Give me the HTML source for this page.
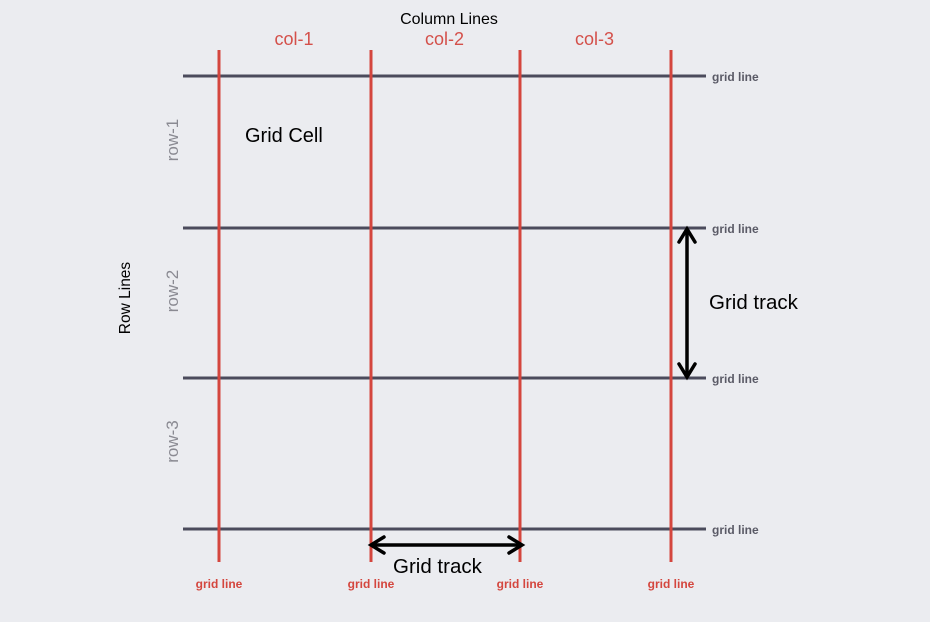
<!DOCTYPE html>
<html><head><meta charset="utf-8"><style>
body{margin:0;background:#ebecf0;}
svg{display:block;font-family:"Liberation Sans",sans-serif;}
</style></head><body>
<svg width="930" height="622" viewBox="0 0 930 622" id="s">
<rect width="930" height="622" fill="#ebecf0"/>
<text x="449" y="24" font-size="16" text-anchor="middle" fill="#000">Column  Lines</text>
<text x="130" y="298" font-size="15.5" text-anchor="middle" fill="#000" transform="rotate(-90 130 298)">Row Lines</text>
<text x="245" y="142" font-size="20" fill="#000">Grid Cell</text>
<g id="rows"></g>
<g id="cols"></g>
<g stroke="#000" stroke-width="3.5" fill="none" stroke-linecap="round">
<line x1="687" y1="230" x2="687" y2="376"/>
<polyline points="679,242 687,229 695,242"/>
<polyline points="679,364 687,377 695,364"/>
</g>
<text x="709" y="309" font-size="20.5" fill="#000">Grid track</text>
<g stroke="#000" stroke-width="3.5" fill="none" stroke-linecap="round">
<line x1="372" y1="545" x2="521" y2="545"/>
<polyline points="384,537 371,545 384,553"/>
<polyline points="509,537 522,545 509,553"/>
</g>
<text x="393" y="573" font-size="20.5" fill="#000">Grid track</text>
</svg>
<script>
const rowLines=[76,228,378,529];
const colLines=[219,371,520,671];
const colNames=["col-1","col-2","col-3"];
const rowNames=["row-1","row-2","row-3"];
const NS="http://www.w3.org/2000/svg";
function mk(t,a,p,txt){const e=document.createElementNS(NS,t);for(const k in a)e.setAttribute(k,a[k]);if(txt)e.textContent=txt;p.appendChild(e);return e;}
const rg=document.getElementById('rows'),cg=document.getElementById('cols');
rowLines.forEach((y,i)=>{
 const l=mk('line',{x1:183,y1:y,x2:706,y2:y,stroke:'#4b4b5c','stroke-width':3},rg);
 
 
 const t=mk('text',{x:712,y:y+5,'font-size':12,'font-weight':'bold',fill:'#5a5a66'},rg,'grid line');
 
 
});
rowNames.forEach((n,i)=>{
 const cy=(rowLines[i]+rowLines[i+1])/2-12, x=178;
 const t=mk('text',{x:x,y:cy,'font-size':17,fill:'#8a8a92','text-anchor':'middle',transform:`rotate(-90 ${x} ${cy})`},rg,n);
 
 
});
colLines.forEach((x,i)=>{
 const l=mk('line',{x1:x,y1:50,x2:x,y2:562,stroke:'#d4463e','stroke-width':3},cg);
 
 
 const t=mk('text',{x:x,y:588,'font-size':12,'font-weight':'bold',fill:'#d4463e','text-anchor':'middle'},cg,'grid line');
 
 
});
colNames.forEach((n,i)=>{
 const cx=(colLines[i]+colLines[i+1])/2-1;
 const t=mk('text',{x:cx,y:45,'font-size':18,fill:'#d4504a','text-anchor':'middle'},cg,n);
 
 
});
</script>
</body></html>
